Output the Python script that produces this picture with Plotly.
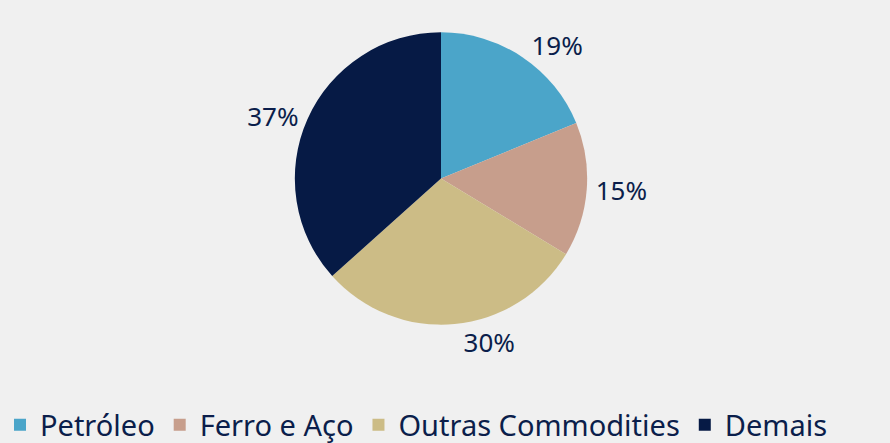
import plotly.graph_objects as go

# ---------- Data ----------
labels = ["Petróleo", "Ferro e Aço", "Outras Commodities", "Demais"]
values = [19, 15, 30, 37]
colors = ["#4BA5C9", "#C79E8C", "#CCBC86", "#061A45"]

_TXT = "#0B1E4B"
_BG = "#F0F0F0"

fig = go.Figure(
    go.Pie(
        labels=labels,
        values=values,
        marker=dict(colors=colors, line=dict(width=0)),
        sort=False,
        direction="clockwise",
        rotation=0,
        textposition="outside",
        texttemplate="%{percent:.0%}",
        textfont=dict(size=26, color=_TXT),
        domain=dict(x=[0.3135, 0.6775], y=[0.187, 0.919]),
        showlegend=True,
    )
)

fig.update_layout(
    width=890,
    height=443,
    paper_bgcolor=_BG,
    plot_bgcolor=_BG,
    margin=dict(l=0, r=0, t=0, b=0),
    font=dict(family="Noto Sans", color=_TXT),
    legend=dict(
        orientation="h",
        xref="container",
        yref="container",
        x=0.0,
        xanchor="left",
        y=0.041,
        yanchor="middle",
        font=dict(size=29, color=_TXT),
        bgcolor="rgba(0,0,0,0)",
        traceorder="normal",
    ),
)

# drop the default page margin so the grey background fills the window
fig.write_html(
    "out.html",
    config={"displayModeBar": False},
    post_script="document.body.style.margin='0';document.body.style.background='#F0F0F0';",
)
